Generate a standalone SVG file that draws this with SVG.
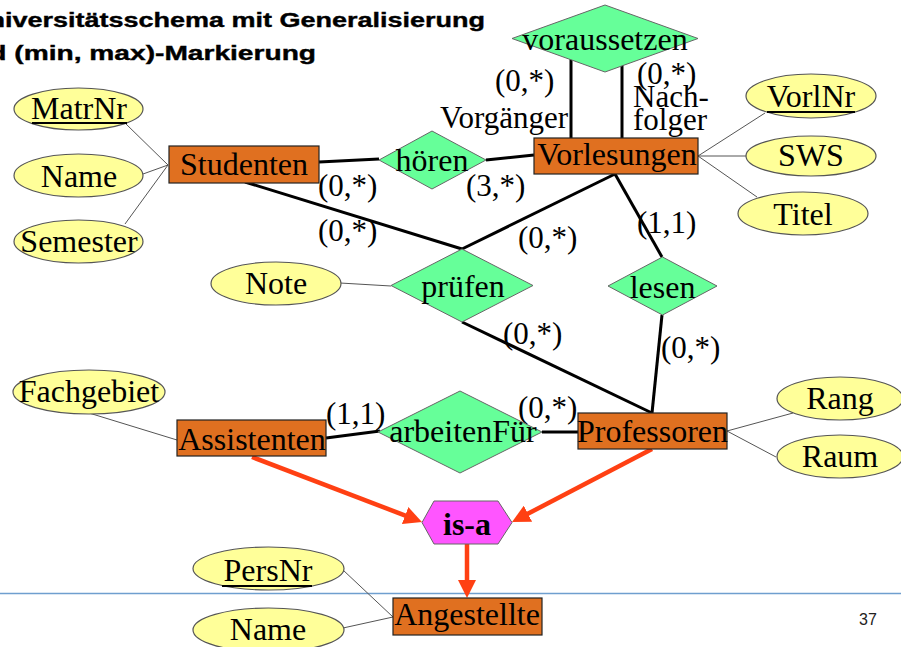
<svg xmlns="http://www.w3.org/2000/svg" width="901" height="647" viewBox="0 0 901 647">
<defs>
<style>
.ent{fill:#e07020;stroke:#222;stroke-width:1.2}
.rel{fill:#66ff99;stroke:#666;stroke-width:1}
.att{fill:#ffff99;stroke:#555;stroke-width:1.2}
.isa{fill:#ff55ff;stroke:#666;stroke-width:1}
.t{font-family:"Liberation Serif","Times New Roman",serif;font-size:31px;fill:#000}
.te{font-family:"Liberation Serif","Times New Roman",serif;font-size:32px;fill:#000;text-anchor:middle}
.ttl{font-family:"Liberation Sans",Arial,sans-serif;font-weight:bold;font-size:21px;fill:#000;stroke:#000;stroke-width:0.4}
.thick{stroke:#000;stroke-width:3;fill:none}
.thin{stroke:#555;stroke-width:1;fill:none}
.red{stroke:#ff4013;stroke-width:4.5;fill:none}
.ul{stroke:#000;stroke-width:2}
</style>
<marker id="ah" viewBox="0 0 18 18" refX="10" refY="9" markerWidth="18" markerHeight="18" markerUnits="userSpaceOnUse" orient="auto">
<path d="M0,0 L18,9 L0,18 z" fill="#ff4013"/>
</marker>
</defs>
<rect width="901" height="647" fill="#fff"/>
<g id="title">
<text class="ttl" x="-31" y="27" textLength="516" lengthAdjust="spacingAndGlyphs">Universitätsschema mit Generalisierung</text>
<text class="ttl" x="-45" y="60" textLength="361" lengthAdjust="spacingAndGlyphs">und (min, max)-Markierung</text>
</g>
<line x1="0" y1="593.5" x2="901" y2="593.5" stroke="#6f9fcf" stroke-width="1.5"/>
<text x="868" y="625" font-family="Liberation Sans Narrow,Liberation Sans,Arial,sans-serif" font-size="16" text-anchor="middle" fill="#222">37</text>
<g id="connectors">
<polyline class="thin" points="125,123 168,165 143,174"/>
<line class="thin" x1="125" y1="224" x2="168" y2="165"/>
<line class="thin" x1="340" y1="283" x2="391" y2="286"/>
<line class="thin" x1="698" y1="156" x2="765" y2="113"/>
<line class="thin" x1="698" y1="156" x2="747" y2="156"/>
<line class="thin" x1="698" y1="156" x2="757" y2="197"/>
<line class="thin" x1="727" y1="431" x2="793" y2="413"/>
<line class="thin" x1="727" y1="431" x2="776" y2="457"/>
<line class="thin" x1="89" y1="413" x2="177" y2="440"/>
<line class="thin" x1="343" y1="570" x2="393" y2="617"/>
<line class="thin" x1="343" y1="628" x2="393" y2="617"/>
<line class="thick" x1="319" y1="162" x2="379" y2="159"/>
<line class="thick" x1="486" y1="160" x2="534" y2="155"/>
<line class="thick" x1="245" y1="182" x2="462" y2="249"/>
<line class="thick" x1="615" y1="174" x2="462" y2="249"/>
<line class="thick" x1="615" y1="174" x2="662" y2="257"/>
<line class="thick" x1="662" y1="315" x2="652" y2="413"/>
<line class="thick" x1="462" y1="322" x2="652" y2="413"/>
<line class="thick" x1="326" y1="438" x2="380" y2="431"/>
<line class="thick" x1="542" y1="432" x2="578" y2="432"/>
<line class="thick" x1="571" y1="57" x2="571" y2="139"/>
<line class="thick" x1="622" y1="64" x2="622" y2="139"/>
<line class="red" x1="252" y1="457" x2="414.5" y2="519.1" marker-end="url(#ah)"/>
<line class="red" x1="652" y1="449" x2="519.1" y2="518.3" marker-end="url(#ah)"/>
<line class="red" x1="467" y1="544" x2="467" y2="590" marker-end="url(#ah)"/>
</g>
<g id="labels">
<text class="t" x="318" y="196">(0,*)</text>
<text class="t" x="318" y="241">(0,*)</text>
<text class="t" x="466" y="196">(3,*)</text>
<text class="t" x="518" y="248">(0,*)</text>
<text class="t" x="637" y="233">(1,1)</text>
<text class="t" x="503" y="344">(0,*)</text>
<text class="t" x="661" y="358">(0,*)</text>
<text class="t" x="326" y="424">(1,1)</text>
<text class="t" x="518" y="418">(0,*)</text>
<text class="t" x="495" y="91">(0,*)</text>
<text class="t" x="637" y="84">(0,*)</text>
<text class="t" x="440" y="128">Vorgänger</text>
<text class="t" x="633" y="107">Nach-</text>
<text class="t" x="633" y="130">folger</text>
</g>
<g id="voraussetzen"><polygon class="rel" points="512,38.5 605,5 698,38.5 605,72"/><text class="te" x="605" y="50">voraussetzen</text></g>
<g id="hoeren"><polygon class="rel" points="379,160 432,131 486,160 432,189"/><text class="te" x="432" y="171">hören</text></g>
<g id="pruefen"><polygon class="rel" points="391,285.5 462,249 533,285.5 462,322"/><text class="te" x="463" y="297">prüfen</text></g>
<g id="lesen"><polygon class="rel" points="608,286 662.5,257 717,286 662.5,315"/><text class="te" x="662.5" y="298">lesen</text></g>
<g id="arbeitenFuer"><polygon class="rel" points="378,432 460,391 542,432 460,473"/><text class="te" x="463" y="442">arbeitenFür</text></g>
<g id="isa"><polygon class="isa" points="422,522.5 434,501 498,501 512,522.5 498,544 434,544"/><text class="te" x="467" y="535" font-weight="bold" font-size="30">is-a</text></g>
<g id="Studenten"><rect class="ent" x="169" y="146" width="150" height="37"/><text class="te" x="244" y="175">Studenten</text></g>
<g id="Vorlesungen"><rect class="ent" x="534" y="138" width="164" height="36"/><text class="te" x="617" y="165">Vorlesungen</text></g>
<g id="Assistenten"><rect class="ent" x="177" y="420" width="149" height="36"/><text class="te" x="252" y="450">Assistenten</text></g>
<g id="Professoren"><rect class="ent" x="578" y="413" width="149" height="36"/><text class="te" x="652.5" y="442">Professoren</text></g>
<g id="Angestellte"><rect class="ent" x="393" y="598" width="149" height="37"/><text class="te" x="467" y="625">Angestellte</text></g>
<g id="MatrNr"><ellipse class="att" cx="78.5" cy="109" rx="64.5" ry="21"/><text class="te" x="79" y="119">MatrNr</text><line class="ul" x1="32" y1="123" x2="127" y2="123"/></g>
<g id="Name1"><ellipse class="att" cx="78.5" cy="175.5" rx="64.5" ry="21.5"/><text class="te" x="79" y="187">Name</text></g>
<g id="Semester"><ellipse class="att" cx="78.5" cy="241.5" rx="64.5" ry="21.5"/><text class="te" x="79" y="252">Semester</text></g>
<g id="Note"><ellipse class="att" cx="276" cy="283.5" rx="65" ry="21.5"/><text class="te" x="276" y="294">Note</text></g>
<g id="VorlNr"><ellipse class="att" cx="811" cy="96" rx="65" ry="22"/><text class="te" x="811" y="107">VorlNr</text><line class="ul" x1="767" y1="112" x2="855" y2="112"/></g>
<g id="SWS"><ellipse class="att" cx="811" cy="156" rx="65" ry="20"/><text class="te" x="811" y="166">SWS</text></g>
<g id="Titel"><ellipse class="att" cx="803" cy="213.5" rx="65" ry="21.5"/><text class="te" x="803" y="225">Titel</text></g>
<g id="Fachgebiet"><ellipse class="att" cx="89" cy="392" rx="76" ry="22"/><text class="te" x="89" y="402">Fachgebiet</text></g>
<g id="Rang"><ellipse class="att" cx="840" cy="398.5" rx="63" ry="21.5"/><text class="te" x="840" y="409">Rang</text></g>
<g id="Raum"><ellipse class="att" cx="840" cy="456.5" rx="63" ry="21.5"/><text class="te" x="840" y="467">Raum</text></g>
<g id="PersNr"><ellipse class="att" cx="268.5" cy="568.5" rx="75.5" ry="21.5"/><text class="te" x="268" y="581">PersNr</text><line class="ul" x1="222" y1="586" x2="312" y2="586"/></g>
<g id="Name2"><ellipse class="att" cx="268.5" cy="630" rx="75.5" ry="22"/><text class="te" x="268" y="640">Name</text></g>
</svg>
